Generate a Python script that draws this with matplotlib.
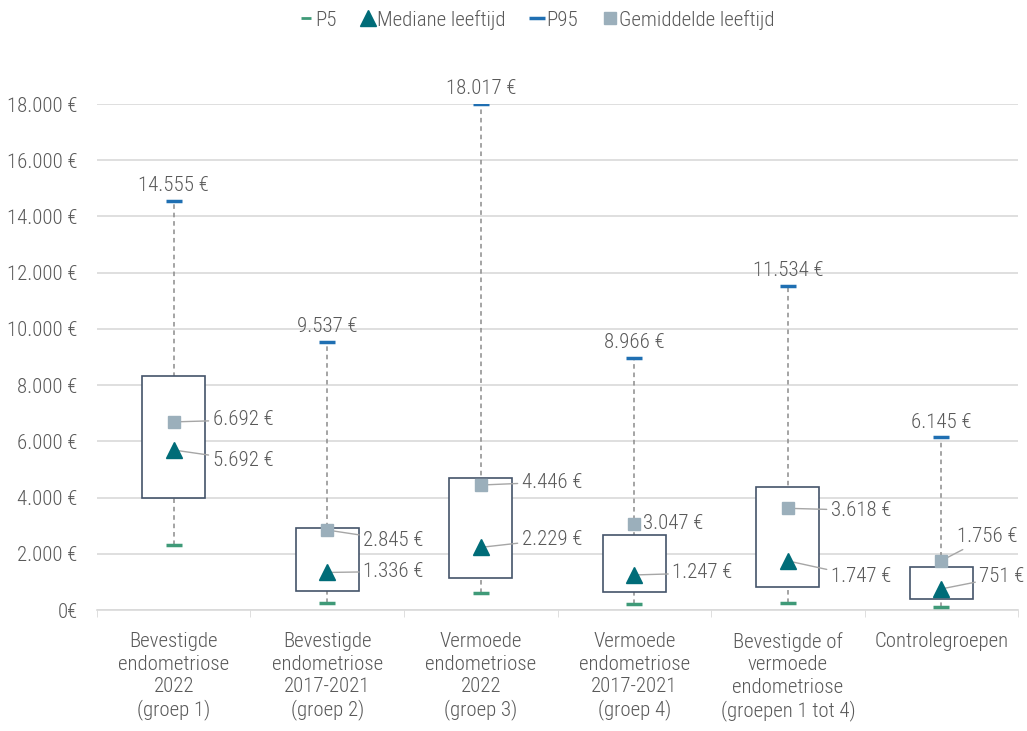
import matplotlib
matplotlib.use("Agg")
import matplotlib.pyplot as plt
from matplotlib.lines import Line2D
from matplotlib.ticker import FuncFormatter, FixedLocator

plt.rcParams['font.family'] = ['Roboto Condensed', 'DejaVu Sans']
plt.rcParams['font.weight'] = 'light'

# Kosten per groep (euro)
groepen = [
    "Bevestigde\nendometriose\n2022\n(groep 1)",
    "Bevestigde\nendometriose\n2017-2021\n(groep 2)",
    "Vermoede\nendometriose\n2022\n(groep 3)",
    "Vermoede\nendometriose\n2017-2021\n(groep 4)",
    "Bevestigde of\nvermoede\nendometriose\n(groepen 1 tot 4)",
    "Controlegroepen",
]
p5 = [2312, 249, 605, 213, 249, 107]
p25 = [3984, 676, 1138, 640, 818, 391]
p75 = [8324, 2917, 4696, 2668, 4376, 1530]
mediaan = [5692, 1336, 2229, 1247, 1747, 751]
gemiddelde = [6692, 2845, 4446, 3047, 3618, 1756]
p95 = [14555, 9537, 18017, 8966, 11534, 6145]

# label offsets in pixels (dx, dy) for mean and median labels
gem_offset = [(39, 2), (36, -10), (41, 3), (9, 1), (43, -2), (16, 24)]
med_offset = [(39, -10), (36, 1), (41, 8), (38, 2), (43, -16), (38, 12)]

TXT = "#595959"
C_MED = "#006c78"
C_GEM = "#9bafbb"
C_P95 = "#1f6fb2"
C_P5 = "#3f9a78"
C_BOX = "#44546a"
FS = 15


def euro(v):
    return f"{int(round(v)):,}".replace(",", ".") + " €"


fig = plt.figure(figsize=(10.27, 7.31), dpi=100)
ax = fig.add_axes([0.0944, 0.1655, 0.897, 0.6922])

x = list(range(len(groepen)))
bw = 0.41

for i in x:
    # whisker P5 - P95
    ax.plot([i, i], [p5[i], p95[i]], ls=(0, (3, 2.5)), color="#8c8c8c", lw=1.1, zorder=2)
    ax.add_patch(plt.Rectangle((i - bw / 2, p25[i]), bw, p75[i] - p25[i],
                               facecolor="white", edgecolor=C_BOX, lw=1.2, zorder=3))

ax.plot(x, p5, ls="none", marker="_", ms=11, mew=2.5, color=C_P5, zorder=4)
ax.plot(x, p95, ls="none", marker="_", ms=11, mew=2.5, color=C_P95, zorder=4)
ax.plot(x, gemiddelde, ls="none", marker="s", ms=8.5, color=C_GEM, zorder=6)
ax.plot(x, mediaan, ls="none", marker="^", ms=11.5, color=C_MED, zorder=6)

lbl = dict(fontsize=FS, color=TXT, va="center", ha="left",
           textcoords="offset pixels",
           arrowprops=dict(arrowstyle="-", color="#a6a6a6", lw=1, shrinkA=1, shrinkB=0))
for i in x:
    ax.annotate(euro(gemiddelde[i]), (i, gemiddelde[i]), xytext=gem_offset[i], zorder=5, **lbl)
    ax.annotate(euro(mediaan[i]), (i, mediaan[i]), xytext=med_offset[i], zorder=5, **lbl)
    ax.annotate(euro(p95[i]), (i, p95[i]), xytext=(0, 15), textcoords="offset pixels",
                ha="center", va="center", fontsize=FS, color=TXT, annotation_clip=False)

ax.set_xlim(-0.5, len(groepen) - 0.5)
ax.set_ylim(0, 18000)
ax.set_yticks(range(0, 18001, 2000))
ax.yaxis.set_major_formatter(FuncFormatter(lambda v, p: "0€" if v == 0 else euro(v)))
ax.set_xticks(x)
ax.set_xticklabels(groepen, fontsize=FS, color=TXT, linespacing=1.22)
ax.xaxis.set_minor_locator(FixedLocator([i - 0.5 for i in range(len(groepen) + 1)]))
ax.tick_params(axis="x", which="major", length=0, pad=16)
ax.tick_params(axis="x", which="minor", length=5, color="#d9d9d9")
ax.tick_params(axis="y", length=0, pad=14, labelsize=FS, labelcolor=TXT)
ax.grid(axis="y", color="#d9d9d9", lw=1.2)
ax.set_axisbelow(True)
for s in ["left", "right", "top"]:
    ax.spines[s].set_visible(False)
ax.spines["bottom"].set_color("#d9d9d9")
ax.spines["bottom"].set_linewidth(1.2)

handles = [
    Line2D([], [], ls="none", marker="_", ms=7, mew=2, color=C_P5),
    Line2D([], [], ls="none", marker="^", ms=11, color=C_MED),
    Line2D([], [], ls="none", marker="_", ms=11, mew=2.5, color=C_P95),
    Line2D([], [], ls="none", marker="s", ms=8.5, color=C_GEM),
]
fig.legend(handles, ["P5", "Mediane leeftijd", "P95", "Gemiddelde leeftijd"],
           loc="center", bbox_to_anchor=(0.523, 0.973), ncol=4, frameon=False,
           fontsize=FS, labelcolor=TXT, handlelength=0.6, handletextpad=0.15,
           columnspacing=1.2)

fig.savefig("out.png", dpi=100)
